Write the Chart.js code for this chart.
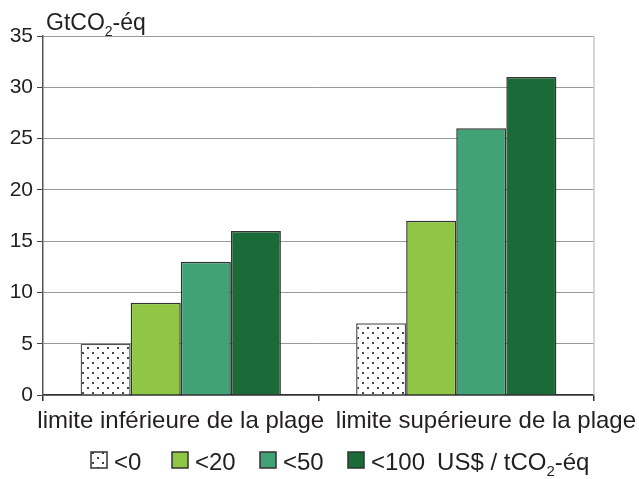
<!DOCTYPE html>
<html>
<head>
<meta charset="utf-8">
<script src="https://cdn.jsdelivr.net/npm/chart.js@4"></script>
<style>
  html, body { margin: 0; padding: 0; background: #fff; }
  #wrap { width: 639px; height: 479px; }
</style>
</head>
<body>
<div id="wrap"><canvas id="chart" width="639" height="479"></canvas></div>
<script>
// données
const categories = ['limite inférieure de la plage', 'limite supérieure de la plage'];
const seriesLabels = ['<0', '<20', '<50', '<100'];
const below0 = [5, 7];
const below20 = [9, 17];
const below50 = [13, 26];
const below100 = [16, 31];
const yTicks = [0, 5, 10, 15, 20, 25, 30, 35];

const FONT = '"Liberation Sans", Arial, sans-serif';
const TEXT = '#231f20';

// motif pointillé pour la série <0
function dotPattern() {
    const c = document.createElement('canvas');
    c.width = 10;
    c.height = 10;
    const g = c.getContext('2d');
    g.fillStyle = '#fff';
    g.fillRect(0, 0, 10, 10);
    g.fillStyle = '#444';
    g.fillRect(2, 2, 2, 2);
    g.fillRect(7, 7, 2, 2);
    return g.createPattern(c, 'repeat');
}

// texte avec indice "2" (CO2)
function drawSubText(ctx, x, y, before, sub, after, size) {
    ctx.font = size + 'px ' + FONT;
    ctx.fillText(before, x, y);
    x += ctx.measureText(before).width;
    ctx.font = Math.round(size * 0.62) + 'px ' + FONT;
    ctx.fillText(sub, x, y + size * 0.25);
    x += ctx.measureText(sub).width;
    ctx.font = size + 'px ' + FONT;
    ctx.fillText(after, x, y);
    return x + ctx.measureText(after).width;
}

const extras = {
    id: 'extras',
    afterDraw(chart) {
        const ctx = chart.ctx;
        const area = chart.chartArea;
        ctx.save();
        // bordure droite
        ctx.strokeStyle = '#c8c8c8';
        ctx.lineWidth = 1.5;
        ctx.beginPath();
        ctx.moveTo(area.right, area.top);
        ctx.lineTo(area.right, area.bottom);
        ctx.stroke();

        ctx.fillStyle = TEXT;
        ctx.textBaseline = 'alphabetic';
        ctx.textAlign = 'left';

        // étiquettes des catégories (décalées si elles se chevauchent)
        const xs = chart.scales.x;
        ctx.font = '24px ' + FONT;
        let prevEnd = -Infinity;
        categories.forEach((lab, i) => {
            const w = ctx.measureText(lab).width;
            let left = xs.getPixelForTick(i) - w / 2;
            left = Math.max(left, prevEnd + 15);
            left = Math.min(left, chart.width - 3 - w);
            ctx.fillText(lab, left, 428);
            prevEnd = left + w;
        });

        // titre de l'axe
        drawSubText(ctx, 46, 30, 'GtCO', '2', '-éq', 23);

        // légende
        const boxX = [91, 172, 260, 348];
        const boxY = 452, box = 16;
        let x = 0;
        chart.data.datasets.forEach((ds, i) => {
            ctx.fillStyle = ds.backgroundColor;
            ctx.fillRect(boxX[i], boxY, box, box);
            ctx.strokeStyle = '#333';
            ctx.lineWidth = 1.5;
            ctx.strokeRect(boxX[i], boxY, box, box);
            ctx.fillStyle = TEXT;
            ctx.font = '24px ' + FONT;
            ctx.fillText(ds.label, boxX[i] + box + 7, 470);
            x = boxX[i] + box + 7 + ctx.measureText(ds.label).width;
        });
        drawSubText(ctx, x + 12, 470, 'US$ / tCO', '2', '-éq', 24);
        ctx.restore();
    }
};

const pattern = dotPattern();
const colors = [pattern, '#8fc643', '#41a275', '#1b6b38'];
const borders = ['#555', '#333', '#333', '#333'];
const values = [below0, below20, below50, below100];

new Chart(document.getElementById('chart'), {
    type: 'bar',
    data: {
        labels: categories,
        datasets: seriesLabels.map((lab, i) => ({
            label: lab,
            data: values[i],
            backgroundColor: colors[i],
            borderColor: borders[i],
            borderWidth: 1.5,
            barPercentage: 1,
            categoryPercentage: 0.727
        }))
    },
    options: {
        responsive: false,
        animation: false,
        layout: { padding: { top: 36, right: 45, bottom: 0, left: 0 } },
        plugins: {
            legend: { display: false },
            tooltip: { enabled: false }
        },
        scales: {
            x: {
                afterFit(scale) { scale.height = 84; },
                border: { color: '#333', width: 1.5 },
                grid: {
                    offset: true,
                    drawOnChartArea: false,
                    tickLength: 6,
                    tickColor: '#333',
                    lineWidth: 1.5
                },
                ticks: { display: false }
            },
            y: {
                min: 0,
                max: 35,
                afterFit(scale) { scale.width = 43; },
                afterBuildTicks(scale) { scale.ticks = yTicks.map(v => ({ value: v })); },
                border: { color: '#555', width: 1.5 },
                grid: {
                    color: '#999',
                    lineWidth: 1,
                    tickLength: 6,
                    tickColor: '#444'
                },
                ticks: {
                    color: TEXT,
                    padding: 4,
                    font: { family: FONT, size: 21 }
                }
            }
        }
    },
    plugins: [extras]
});
</script>
</body>
</html>
